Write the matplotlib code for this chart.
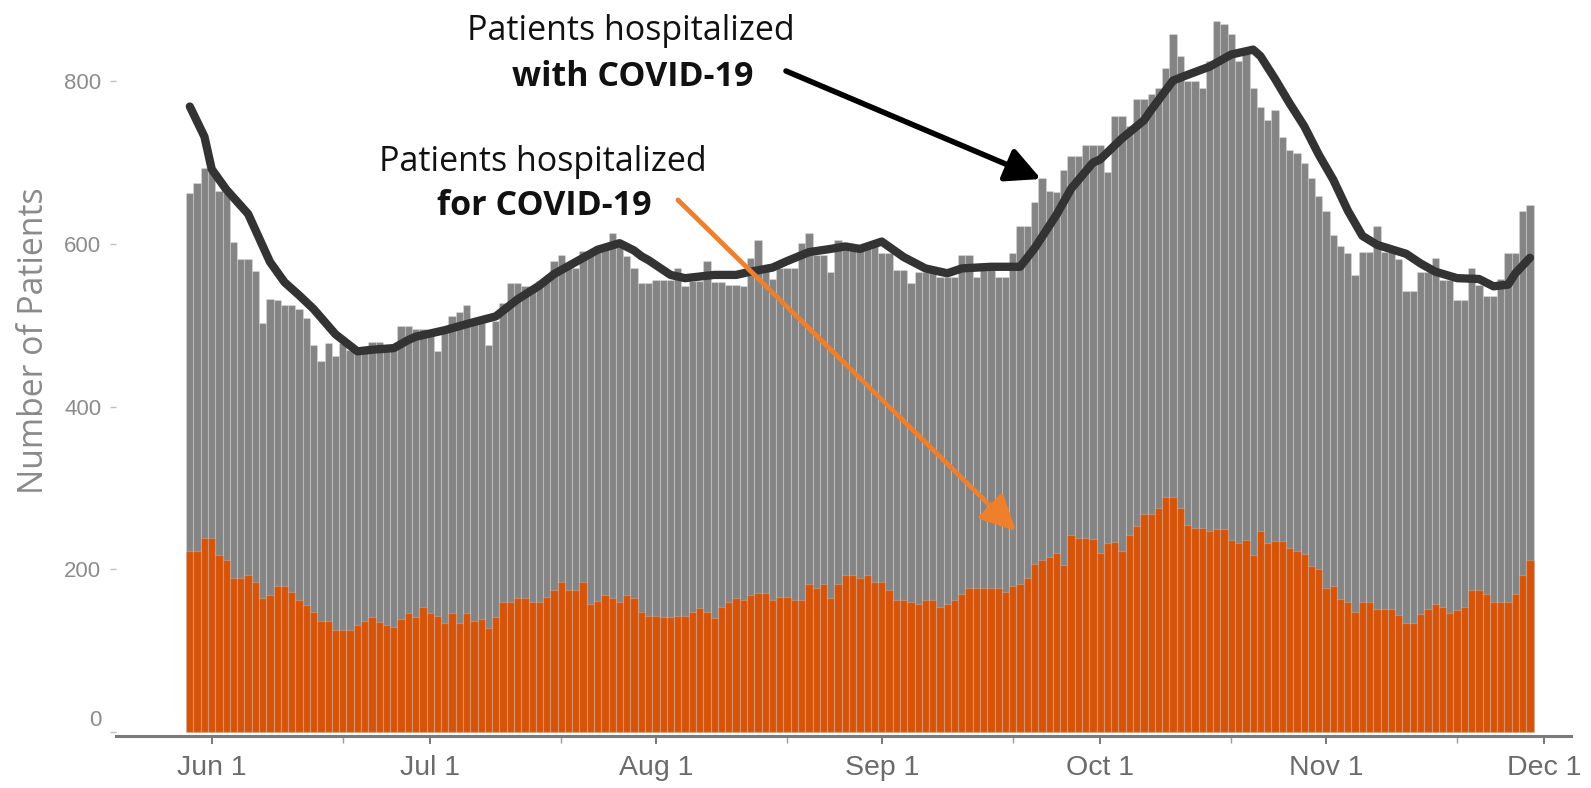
import matplotlib
matplotlib.use("Agg")
import matplotlib.pyplot as plt
import matplotlib.dates as mdates
import matplotlib.ticker as mticker
import matplotlib.transforms as mtransforms
import pandas as pd
from matplotlib.patches import FancyArrowPatch

# ---------------- data ----------------
start_date = "2022-05-29"

total_with_covid = [
    663, 675, 694, 690, 665, 663, 603, 582, 582, 567,
    503, 532, 531, 525, 525, 520, 509, 476, 456, 478,
    462, 478, 470, 465, 470, 480, 480, 472, 472, 499,
    499, 496, 495, 493, 468, 493, 511, 517, 525, 502,
    505, 476, 505, 528, 552, 552, 548, 544, 555, 560,
    579, 587, 572, 570, 591, 591, 597, 595, 614, 601,
    585, 571, 552, 552, 556, 556, 556, 571, 548, 555,
    555, 579, 553, 553, 550, 550, 548, 583, 605, 567,
    557, 570, 570, 570, 601, 614, 587, 587, 565, 605,
    597, 597, 597, 597, 597, 589, 589, 568, 568, 552,
    565, 565, 565, 560, 560, 560, 587, 587, 560, 571,
    571, 559, 559, 589, 622, 622, 652, 681, 665, 664,
    691, 708, 708, 722, 722, 722, 688, 757, 757, 745,
    778, 778, 785, 792, 817, 858, 831, 800, 800, 792,
    825, 874, 870, 858, 825, 840, 792, 768, 753, 765,
    731, 716, 712, 700, 681, 659, 640, 611, 597, 589,
    562, 590, 590, 622, 590, 590, 581, 542, 542, 566,
    566, 583, 556, 556, 531, 531, 571, 550, 536, 536,
    557, 589, 589, 640, 648,
]

for_covid = [
    223, 223, 239, 239, 218, 212, 189, 189, 193, 185,
    165, 169, 179, 179, 172, 162, 156, 148, 136, 136,
    125, 125, 125, 132, 136, 142, 135, 132, 129, 139,
    146, 142, 154, 146, 143, 134, 146, 134, 146, 136,
    139, 128, 142, 160, 160, 165, 165, 160, 160, 166,
    175, 185, 175, 175, 185, 158, 161, 169, 165, 160,
    169, 165, 148, 143, 143, 141, 141, 143, 143, 148,
    152, 148, 140, 154, 160, 165, 162, 169, 171, 171,
    162, 166, 166, 162, 162, 182, 177, 182, 165, 182,
    193, 193, 189, 193, 185, 185, 175, 162, 162, 160,
    157, 162, 162, 154, 158, 162, 170, 177, 177, 177,
    177, 177, 172, 179, 182, 189, 206, 211, 215, 220,
    205, 242, 238, 238, 237, 220, 232, 234, 223, 242,
    253, 268, 268, 276, 289, 289, 276, 255, 251, 251,
    247, 249, 249, 236, 232, 236, 218, 247, 233, 235,
    235, 226, 223, 219, 204, 200, 177, 180, 163, 160,
    148, 160, 160, 151, 151, 151, 144, 134, 134, 145,
    151, 157, 154, 146, 150, 154, 175, 175, 170, 160,
    160, 160, 170, 193, 212,
]

# 7-day average line (read at selected dates)
avg_dates = [
    "2022-05-29", "2022-05-31", "2022-06-01", "2022-06-03", "2022-06-06",
    "2022-06-09", "2022-06-11", "2022-06-13", "2022-06-15", "2022-06-18",
    "2022-06-21", "2022-06-23", "2022-06-26", "2022-06-28", "2022-06-29",
    "2022-07-03", "2022-07-07", "2022-07-10", "2022-07-13", "2022-07-16",
    "2022-07-18", "2022-07-21", "2022-07-24", "2022-07-27", "2022-07-29",
    "2022-07-30", "2022-07-31", "2022-08-03", "2022-08-05", "2022-08-09",
    "2022-08-12", "2022-08-14", "2022-08-17", "2022-08-19", "2022-08-22",
    "2022-08-25", "2022-08-27", "2022-08-29", "2022-09-01", "2022-09-04",
    "2022-09-07", "2022-09-10", "2022-09-12", "2022-09-16", "2022-09-20",
    "2022-09-22", "2022-09-25", "2022-09-27", "2022-09-30", "2022-10-01",
    "2022-10-04", "2022-10-07", "2022-10-08", "2022-10-11", "2022-10-13",
    "2022-10-16", "2022-10-18", "2022-10-19", "2022-10-22", "2022-10-23",
    "2022-10-25", "2022-10-27", "2022-10-29", "2022-10-31", "2022-11-02",
    "2022-11-04", "2022-11-06", "2022-11-08", "2022-11-12", "2022-11-14",
    "2022-11-16", "2022-11-19", "2022-11-22", "2022-11-24", "2022-11-26",
    "2022-11-27", "2022-11-29",
]
avg_values = [
    769, 732, 692, 667, 637,
    578, 553, 537, 520, 489,
    468, 470, 472, 482, 486,
    494, 504, 511, 532, 549,
    563, 578, 593, 601, 592,
    585, 580, 562, 558, 562,
    562, 566, 571, 579, 590,
    594, 597, 594, 603, 584,
    570, 564, 570, 572, 572,
    595, 636, 668, 700, 704,
    730, 752, 765, 801, 808,
    818, 828, 833, 839, 831,
    803, 773, 745, 710, 679,
    641, 610, 599, 588, 576,
    566, 558, 557, 548, 550,
    564, 583,
]

month_ticks = ["2022-06-01", "2022-07-01", "2022-08-01", "2022-09-01",
               "2022-10-01", "2022-11-01", "2022-12-01"]
minor_ticks = ["2022-06-19", "2022-07-19", "2022-08-19", "2022-09-19",
               "2022-10-19", "2022-11-19"]
y_ticks = [0, 200, 400, 600, 800]

# ---------------- figure ----------------
W, H = 1591, 788
fig = plt.figure(figsize=(W / 100, H / 100), dpi=100)
AX_L, AX_R = 116, 1571
ax = fig.add_axes([AX_L / W, 52 / H, (AX_R - AX_L) / W, 736 / H])

dates = pd.date_range(start_date, periods=len(total_with_covid), freq="D")

GRAY = "#848484"
ORANGE = "#D6530A"
ax.bar(dates, total_with_covid, width=1.0, color=GRAY,
       edgecolor=(1, 1, 1, 0.2), linewidth=0.9, zorder=1)
ax.bar(dates, for_covid, width=1.0, color=ORANGE,
       edgecolor=(1, 1, 1, 0.2), linewidth=0.9, zorder=2)

ax.plot(pd.to_datetime(avg_dates), avg_values, color="#333333", lw=6.0,
        solid_capstyle="round", solid_joinstyle="round", zorder=3)

# axes
jun1 = mdates.date2num(pd.Timestamp("2022-06-01"))
px_per_day = 7.283
ax.set_xlim(jun1 - (211.7 - AX_L) / px_per_day, jun1 + (AX_R - 211.7) / px_per_day)
ax.set_ylim(-4.9, 900)

ax.xaxis.set_major_locator(mticker.FixedLocator(mdates.date2num(pd.to_datetime(month_ticks))))
ax.xaxis.set_minor_locator(mticker.FixedLocator(mdates.date2num(pd.to_datetime(minor_ticks))))
ax.xaxis.set_major_formatter(mticker.FuncFormatter(
    lambda v, p: mdates.num2date(v).strftime("%b ") + str(mdates.num2date(v).day)))
ax.set_yticks(y_ticks)
ax.set_yticklabels([str(v) for v in y_ticks])

for s in ["top", "right", "left"]:
    ax.spines[s].set_visible(False)
ax.spines["bottom"].set_color("#7a7a7a")
ax.spines["bottom"].set_linewidth(2.2)

ax.tick_params(axis="x", which="major", length=6, width=1.3, color="#6f6f6f",
               labelsize=20.5, labelcolor="#6b6b6b", pad=8)
ax.tick_params(axis="x", which="minor", length=5, width=1.0, color="#9a9a9a")
ax.tick_params(axis="y", length=4.5, width=1.0, color="#c0c0c0",
               labelsize=16, labelcolor="#8c8c8c", pad=6)
for lab in ax.get_xticklabels() + ax.get_yticklabels():
    lab.set_family("Liberation Sans")

# the "0" label sits a little above its tick in the reference
zero_lab = ax.get_yticklabels()[0]
zero_lab.set_transform(zero_lab.get_transform() +
                       mtransforms.ScaledTranslation(0, 0.14, fig.dpi_scale_trans))

fig.text(34 / W, 1 - 341 / H, "Number of Patients", rotation=90,
         ha="center", va="center", fontsize=24.3, color="#8a8a8a", family="Open Sans")

# annotations
TXT = dict(ha="center", va="center", fontsize=24.5, color="#111111", family="Open Sans")
fig.text(631 / W, 1 - 31 / H, "Patients hospitalized", **TXT)
fig.text(633 / W, 1 - 77 / H, "with COVID-19", fontweight="bold", **TXT)
fig.text(543 / W, 1 - 162 / H, "Patients hospitalized", **TXT)
fig.text(544 / W, 1 - 206 / H, "for COVID-19", fontweight="bold", **TXT)

def fig_arrow(x0, y0, x1, y1, color, lw):
    arr = FancyArrowPatch((x0 / W, 1 - y0 / H), (x1 / W, 1 - y1 / H),
                          transform=fig.transFigure, color=color, lw=lw,
                          arrowstyle="-|>,head_length=1.5,head_width=0.75",
                          mutation_scale=14, shrinkA=0, shrinkB=0, zorder=5)
    fig.add_artist(arr)

fig_arrow(786, 71, 1041, 179, "#000000", 4.0)
fig_arrow(678, 200, 1016, 531, "#EE7F2D", 3.5)

fig.savefig("out.png", dpi=100, facecolor="white")
